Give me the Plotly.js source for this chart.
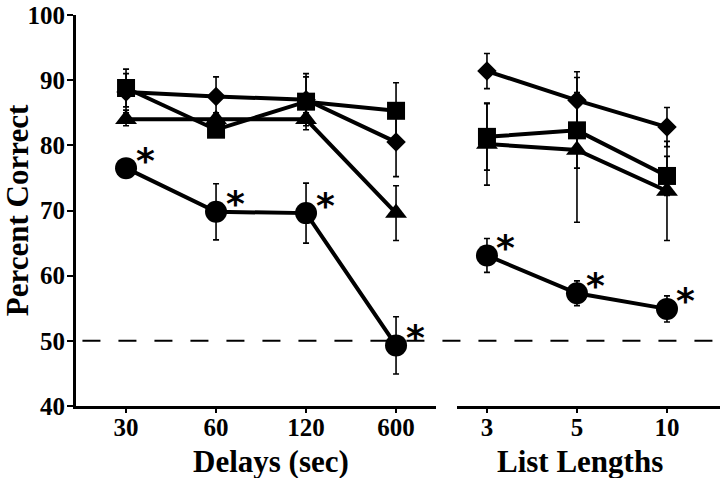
<!DOCTYPE html>
<html>
<head>
<meta charset="utf-8">
<script src="https://cdn.plot.ly/plotly-3.0.1.min.js"></script>
<style>html,body{margin:0;padding:0;background:#fff;}#chart{width:720px;height:478px;}</style>
</head>
<body>
<div id="chart"></div>
<script>
// Categories / tick labels
var delays = ["30", "60", "120", "600"];
var listLengths = ["3", "5", "10"];
var yTicks = [40, 50, 60, 70, 80, 90, 100];
var chanceLevel = 50;

// Delay panel (percent correct) and error bars
var delayDiamond = [88.2, 87.5, 87.0, 80.5];
var delayDiamondErr = [2.8, 3.0, 3.5, 5.3];
var delaySquare = [88.8, 82.4, 86.7, 85.3];
var delaySquareErr = [2.9, 1.0, 4.3, 4.3];
var delayTriangle = [84.0, 84.0, 84.0, 69.6];
var delayTriangleErr = [1.0, 1.0, 1.0, 4.2];
var delayCircle = [76.5, 69.8, 69.6, 49.3];
var delayCircleErr = [1.0, 4.3, 4.6, 4.4];

// List-length panel
var listDiamond = [91.4, 86.9, 82.8];
var listDiamondErr = [2.7, 4.4, 3.0];
var listSquare = [81.3, 82.3, 75.3];
var listSquareErr = [5.1, 5.8, 3.0];
var listTriangle = [80.2, 79.3, 73.0];
var listTriangleErr = [6.3, 11.1, 7.6];
var listCircle = [63.1, 57.3, 54.9];
var listCircleErr = [2.6, 1.9, 2.0];

var FONT = "Liberation Serif, Times New Roman, serif";

function series(x, y, err, symbol, size, xa) {
  return {
    type: "scatter", mode: "lines+markers", x: x, y: y,
    xaxis: xa, yaxis: "y", showlegend: false, cliponaxis: false,
    line: {color: "#000", width: 4},
    marker: {symbol: symbol, size: size, color: "#000"},
    error_y: {type: "data", array: err, visible: true, color: "#000", thickness: 1.6, width: 3}
  };
}

var data = [
  series(delays, delayTriangle, delayTriangleErr, "triangle-up", 19, "x"),
  series(delays, delayDiamond, delayDiamondErr, "diamond", 15, "x"),
  series(delays, delaySquare, delaySquareErr, "square", 18, "x"),
  series(delays, delayCircle, delayCircleErr, "circle", 22, "x"),
  series(listLengths, listTriangle, listTriangleErr, "triangle-up", 19, "x2"),
  series(listLengths, listDiamond, listDiamondErr, "diamond", 15, "x2"),
  series(listLengths, listSquare, listSquareErr, "square", 18, "x2"),
  series(listLengths, listCircle, listCircleErr, "circle", 22, "x2")
];

var annotations = [];
function stars(xs, ys, xref) {
  for (var i = 0; i < xs.length; i++) {
    // category axis: position by category index
    annotations.push({x: xs.indexOf(xs[i]), y: ys[i], xref: xref, yref: "y", text: "*", showarrow: false,
      xanchor: "center", yanchor: "middle", xshift: 19, yshift: 8,
      font: {family: "DejaVu Sans", size: 36, color: "#000", weight: 700}});
  }
}
stars(delays, delayCircle, "x");
stars(listLengths, listCircle, "x2");

annotations.push({xref: "paper", yref: "paper", x: 0.3028, y: 0, yshift: -36, xanchor: "center", yanchor: "top",
  text: "Delays (sec)", showarrow: false, font: {family: FONT, size: 31, color: "#000", weight: 700}});
annotations.push({xref: "paper", yref: "paper", x: 0.7826, y: 0, yshift: -36, xanchor: "center", yanchor: "top",
  text: "List Lengths", showarrow: false, font: {family: FONT, size: 31, color: "#000", weight: 700}});

var axisCommon = {
  type: "category", showline: true, linewidth: 3, linecolor: "#000",
  ticks: "outside", ticklen: 4, tickwidth: 2, tickcolor: "#000", ticklabelstandoff: -7,
  showgrid: false, zeroline: false, fixedrange: true,
  tickfont: {family: FONT, size: 25, color: "#000", weight: 700}
};

var layout = {
  width: 720, height: 478,
  margin: {l: 76, r: 0, t: 15, b: 72},
  paper_bgcolor: "#fff", plot_bgcolor: "#fff",
  xaxis: Object.assign({}, axisCommon, {domain: [0, 0.559], range: [-0.556, 3.444], anchor: "y"}),
  xaxis2: Object.assign({}, axisCommon, {domain: [0.5916, 1], range: [-0.333, 2.589], anchor: "y"}),
  yaxis: {
    range: [40, 100], tickvals: yTicks, showline: true, linewidth: 3, linecolor: "#000",
    ticks: "outside", ticklen: 6, tickwidth: 2, tickcolor: "#000", ticklabelstandoff: -3,
    showgrid: false, zeroline: false, anchor: "x",
    tickfont: {family: FONT, size: 25, color: "#000", weight: 700},
    title: {text: "Percent Correct", standoff: 4, font: {family: FONT, size: 31, color: "#000", weight: 700}}
  },
  shapes: [{type: "line", xref: "paper", yref: "y", x0: 0.01, x1: 1, y0: chanceLevel, y1: chanceLevel,
    line: {color: "#000", width: 2, dash: "18px,18px"}, layer: "below"}],
  annotations: annotations
};

Plotly.newPlot("chart", data, layout, {staticPlot: true, displayModeBar: false});
</script>
</body>
</html>
